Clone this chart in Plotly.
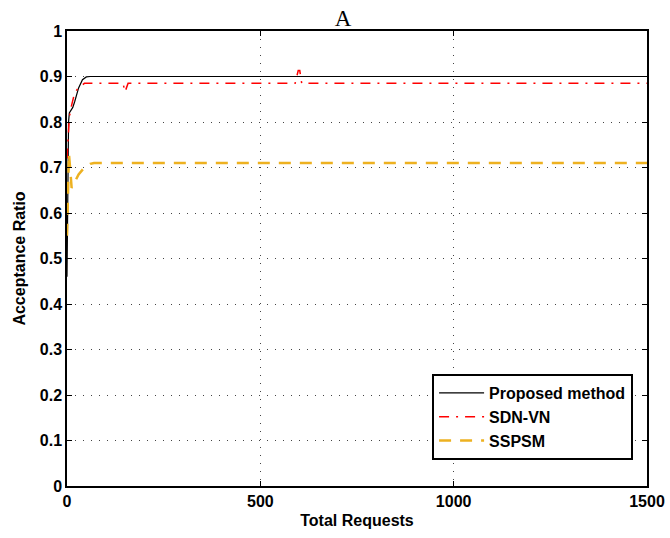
import plotly.graph_objects as go

# Proposed method
prop_x = [0, 1, 2, 4, 6, 10, 15, 20, 30, 40, 50, 60, 1500]
prop_y = [0.46, 0.55, 0.70, 0.80, 0.82, 0.826, 0.832, 0.845, 0.875, 0.893, 0.899, 0.90, 0.90]

# SDN-VN
sdn_x = [0, 3, 6, 10, 15, 20, 30, 45, 145, 150, 158, 590, 598, 602, 607, 1500]
sdn_y = [0.72, 0.76, 0.81, 0.83, 0.85, 0.865, 0.875, 0.885, 0.885, 0.866, 0.885, 0.885, 0.913, 0.913, 0.885, 0.885]

# SSPSM
ssp_x = [0, 2, 5, 8, 12, 20, 30, 45, 60, 70, 1500]
ssp_y = [0.55, 0.62, 0.73, 0.70, 0.655, 0.668, 0.685, 0.70, 0.708, 0.71, 0.71]

x_ticks = [0, 500, 1000, 1500]
y_ticks = [0, 0.1, 0.2, 0.3, 0.4, 0.5, 0.6, 0.7, 0.8, 0.9, 1]
y_tick_text = ["0", "0.1", "0.2", "0.3", "0.4", "0.5", "0.6", "0.7", "0.8", "0.9", "1"]

FONT = "Liberation Sans, Arial, Helvetica"

W, H = 670, 538

fig = go.Figure()
fig.add_trace(go.Scatter(x=prop_x, y=prop_y, mode="lines", name="Proposed method",
                         line=dict(color="black", width=1.2)))
fig.add_trace(go.Scatter(x=sdn_x, y=sdn_y, mode="lines", name="SDN-VN",
                         line=dict(color="#FF0000", width=1.5, dash="10px,7px,2px,7px")))
fig.add_trace(go.Scatter(x=ssp_x, y=ssp_y, mode="lines", name="SSPSM",
                         line=dict(color="#EDB120", width=2.5, dash="12px,9px")))

axis_common = dict(
    showline=True, linecolor="black", linewidth=1.5, mirror="allticks",
    ticks="inside", ticklen=5, tickcolor="black",
    showgrid=True, gridcolor="#444444", griddash="1px,7px", gridwidth=1,
    zeroline=False, automargin=False,
    tickfont=dict(family=FONT, size=16, color="black", weight="bold"),
)

fig.update_xaxes(range=[0, 1500], tickvals=x_ticks, ticklabelstandoff=0,
                 title=dict(text="Total Requests", standoff=6,
                            font=dict(family=FONT, size=16, color="black", weight="bold")),
                 **axis_common)
fig.update_yaxes(range=[0, 1], tickvals=y_ticks, ticktext=y_tick_text,
                 title=dict(text="Acceptance Ratio", standoff=10,
                            font=dict(family=FONT, size=16, color="black", weight="bold")),
                 **axis_common)

fig.update_layout(
    width=W, height=H,
    margin=dict(l=67, r=23, t=31, b=52),
    paper_bgcolor="white", plot_bgcolor="white",
    title=dict(text="A", x=343 / W, xanchor="center", y=1 - 18 / H, yanchor="middle",
               font=dict(family="Liberation Serif, Times New Roman", size=23, color="black")),
    showlegend=True,
    legend=dict(x=0.976, xanchor="right", y=0.057, yanchor="bottom",
                bgcolor="white", bordercolor="black", borderwidth=2,
                font=dict(family=FONT, size=16, color="black", weight="bold"),
                itemwidth=45, tracegroupgap=0),
)

# remove the browser's default 8px body margin so the figure sits at the page origin
fig.write_html("out.html", config={"displayModeBar": False},
               post_script="document.body.style.margin='0';")
